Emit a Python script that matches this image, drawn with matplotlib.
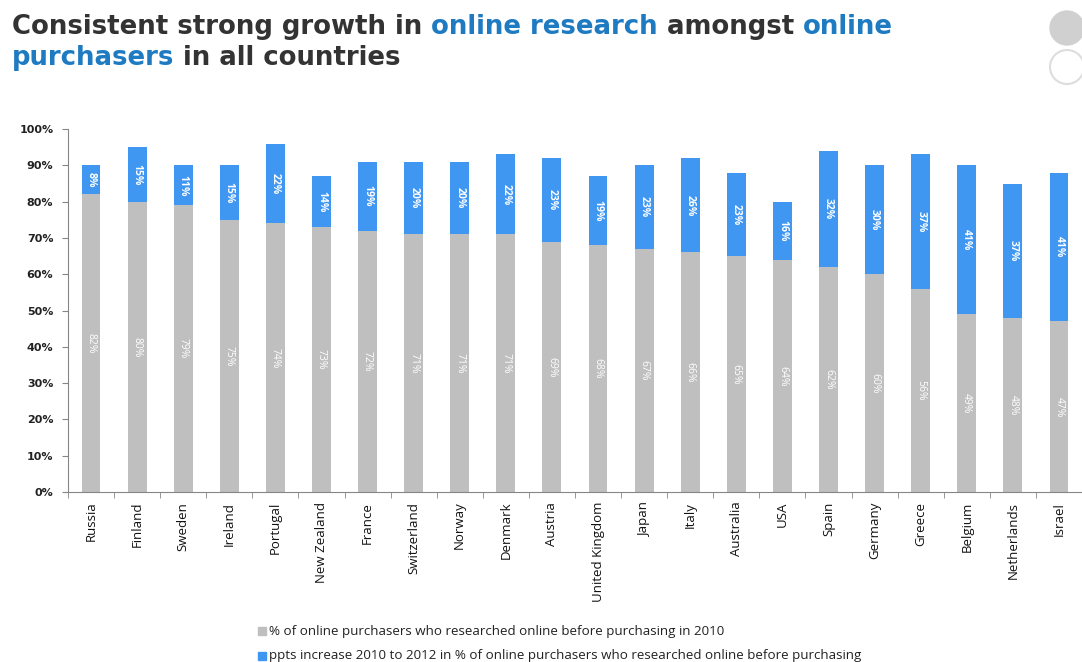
import matplotlib
matplotlib.use("Agg")
import matplotlib.pyplot as plt
import numpy as np
from matplotlib.patches import Rectangle, Ellipse

countries = ["Russia", "Finland", "Sweden", "Ireland", "Portugal", "New Zealand", "France",
             "Switzerland", "Norway", "Denmark", "Austria", "United Kingdom", "Japan", "Italy",
             "Australia", "USA", "Spain", "Germany", "Greece", "Belgium", "Netherlands", "Israel"]
base_2010 = [82, 80, 79, 75, 74, 73, 72, 71, 71, 71, 69, 68, 67, 66, 65, 64, 62, 60, 56, 49, 48, 47]
increase = [8, 15, 11, 15, 22, 14, 19, 20, 20, 22, 23, 19, 23, 26, 23, 16, 32, 30, 37, 41, 37, 41]
yticks = [0, 10, 20, 30, 40, 50, 60, 70, 80, 90, 100]
legend_labels = ["% of online purchasers who researched online before purchasing in 2010",
                 "ppts increase 2010 to 2012 in % of online purchasers who researched online before purchasing"]

GRAY = "#BFBFBF"
BLUE = "#3F97F2"
DARK = "#333333"
TBLUE = "#1F7BC1"

W, H = 1082, 662
fig = plt.figure(figsize=(W / 100, H / 100), dpi=100)
ax = fig.add_axes([0.0628, 0.2568, 0.9372, 0.5482])

x = np.arange(len(countries))
w = 0.41
ax.bar(x, base_2010, width=w, color=GRAY, zorder=2)
ax.bar(x, increase, width=w, bottom=base_2010, color=BLUE, zorder=2)

for xi, b, inc in zip(x, base_2010, increase):
    ax.text(xi, b / 2, f"{b}%", rotation=270, color="white", ha="center", va="center",
            fontsize=7.5, family="Open Sans")
    ax.text(xi, b + inc / 2, f"{inc}%", rotation=270, color="white", ha="center", va="center",
            fontsize=7.5, family="Open Sans", fontweight="bold")

ax.set_xlim(-0.5, len(countries) - 0.5)
ax.set_ylim(0, 100)
ax.set_yticks(yticks)
ax.set_yticklabels([f"{t}%" for t in yticks], fontsize=8, fontweight="bold", color="#222222",
                   family="DejaVu Sans")
ax.set_xticks(x)
ax.set_xticklabels(countries, rotation=90, fontsize=9.5, family="Open Sans", color="#111111")
ax.tick_params(axis="x", length=0, pad=7)
ax.set_xticks(np.arange(-0.5, len(countries), 1), minor=True)
ax.tick_params(axis="x", which="minor", length=4, color="#868686", direction="out")
ax.tick_params(axis="y", length=4, color="#868686", pad=6.5)
for s in ["top", "right"]:
    ax.spines[s].set_visible(False)
for s in ["left", "bottom"]:
    ax.spines[s].set_color("#868686")

# Title with coloured words, placed piece by piece on a shared baseline
renderer = fig.canvas.get_renderer()
kw = dict(fontsize=18.7, fontweight="bold", family="DejaVu Sans", va="baseline", ha="left")
lines = [([("Consistent strong growth in ", DARK), ("online research", TBLUE),
           (" amongst ", DARK), ("online", TBLUE)], 34),
         ([("purchasers", TBLUE), (" in all countries", DARK)], 65)]
for pieces, ybase in lines:
    xpix = 12
    for t, c in pieces:
        fig.text(xpix / W, 1 - ybase / H, t, color=c, **kw)
        tmp = fig.text(0, 0, t.replace(" ", "\u00a0"), **kw)
        adv = tmp.get_window_extent(renderer).width
        tmp.remove()
        xpix += adv

# Legend
for i, (lab, col) in enumerate(zip(legend_labels, [GRAY, BLUE])):
    yy = 1 - (631 + i * 25) / H
    fig.patches.append(Rectangle((258 / W, yy - 4 / H), 8 / W, 8 / H,
                                 transform=fig.transFigure, color=col))
    fig.text(269 / W, yy, lab, fontsize=9.6, family="Open Sans", color="#222222", va="center")

# Decorative circles
fig.patches.append(Ellipse((1067 / W, 1 - 28 / H), 34 / W, 34 / H,
                           transform=fig.transFigure, color="#D0D0D0"))
fig.patches.append(Ellipse((1067 / W, 1 - 67 / H), 34 / W, 34 / H,
                           transform=fig.transFigure, facecolor="none", edgecolor="#DDDDDD", lw=1.5))

fig.savefig("out.png", dpi=100)
